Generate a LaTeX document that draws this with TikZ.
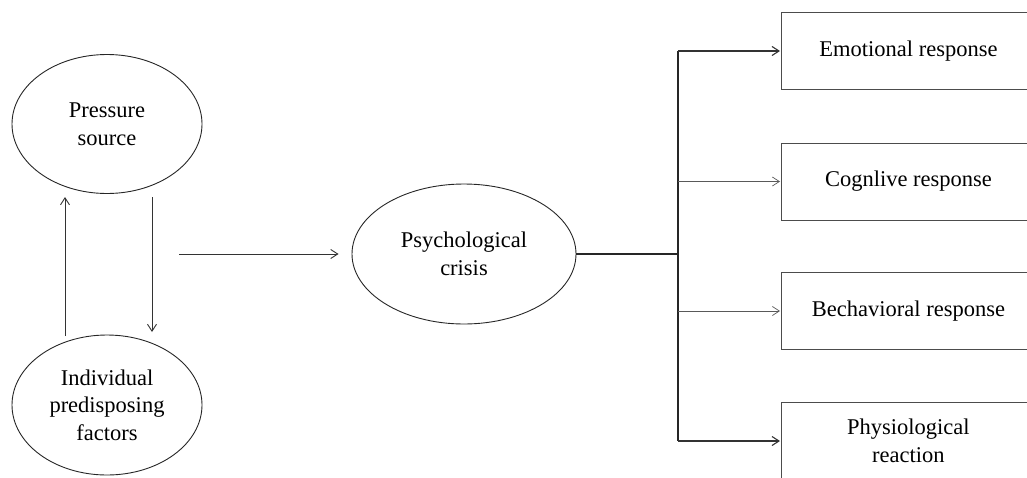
\documentclass[tikz,border=0pt]{standalone}
\usepackage{fontspec}
\setmainfont{Liberation Serif}
\usetikzlibrary{arrows.meta,shapes.geometric}
\begin{document}
\begin{tikzpicture}[x=1pt,y=-1pt,
  every node/.style={font=\fontsize{22.5}{27.5}\selectfont, text=black, align=center},
  oval/.style={draw=black!85, line width=0.9pt, ellipse, inner sep=0pt},
  respbox/.style={draw=black!70, line width=0.9pt, rectangle, anchor=west, minimum width=254pt, minimum height=77pt, inner sep=0pt},
  conn/.style={draw=black!80, line width=0.9pt, -{Straight Barb[length=7pt,width=9pt]}},
  thinconn/.style={draw=black!65, line width=0.7pt, -{Straight Barb[length=7pt,width=9pt]}},
  trunk/.style={draw=black!85, line width=1.3pt}]
\useasboundingbox (0,0) rectangle (1027,477);
\clip (0,0) rectangle (1027,477);
% ellipses
\node[oval, minimum width=190pt, minimum height=139pt] (ps) at (107,124) {Pressure\\source};
\node[oval, minimum width=190pt, minimum height=140pt] (ind) at (107,405) {Individual\\predisposing\\factors};
\node[oval, minimum width=224pt, minimum height=140pt] (crisis) at (464,254) {Psychological\\crisis};
% boxes
\node[respbox] (b1) at (781,51) {Emotional response};
\node[respbox] (b2) at (781,181.5) {Cognlive response};
\node[respbox] (b3) at (781,311) {Bechavioral response};
\node[respbox] (b4) at (781,441) {Physiological\\reaction};
% left arrows
\coordinate (u1) at (65,336);
\coordinate (u2) at (65,197);
\coordinate (d1) at (152,197);
\coordinate (d2) at (152,332);
\coordinate (h1) at (179,254);
\draw[conn] (u1) -- (u2);
\draw[conn] (d1) -- (d2);
\draw[conn] (h1) -- ([xshift=-13pt]crisis.west);
% trunk
\coordinate (jt) at (678,51);
\coordinate (jb) at (678,441);
\draw[trunk] (crisis.east) -- (crisis.east -| jt);
\draw[trunk] (jt) -- (jb);
\draw[conn, line width=1.1pt] (jt) -- ([xshift=-1pt]b1.west);
\draw[thinconn] (jt |- b2.west) -- ([xshift=-1pt]b2.west);
\draw[thinconn] (jt |- b3.west) -- ([xshift=-1pt]b3.west);
\draw[conn, line width=1.1pt] (jb) -- ([xshift=-1pt]b4.west);
\end{tikzpicture}
\end{document}
